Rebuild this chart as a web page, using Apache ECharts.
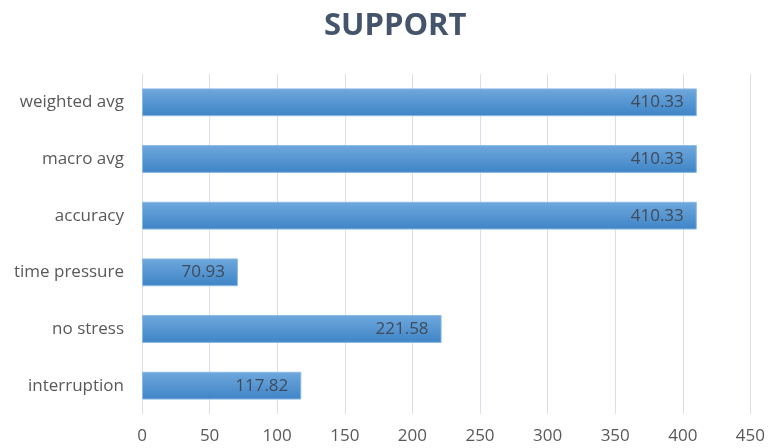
<!DOCTYPE html>
<html><head><meta charset="utf-8">
<script src="https://cdn.jsdelivr.net/npm/echarts@6/dist/echarts.min.js"></script>
<style>html,body{margin:0;padding:0;background:#fff}#c{width:768px;height:448px}</style>
</head><body><div id="c"></div>
<script>
const categories = ['interruption', 'no stress', 'time pressure', 'accuracy', 'macro avg', 'weighted avg'];
const support = [117.82, 221.58, 70.93, 410.33, 410.33, 410.33];
const xTicks = [0, 50, 100, 150, 200, 250, 300, 350, 400, 450];

const chart = echarts.init(document.getElementById('c'));
chart.setOption({
  animation: false,
  title: {
    text: 'SUPPORT', left: 319, top: 6,
    textStyle: { fontFamily: 'Open Sans', fontWeight: 'bold', fontSize: 31, color: '#44546a' }
  },
  grid: { left: 142, right: 14, top: 74, bottom: 34, containLabel: false },
  xAxis: {
    type: 'value', min: xTicks[0], max: xTicks[xTicks.length - 1], interval: 50,
    axisLine: { show: false }, axisTick: { show: false },
    splitLine: { lineStyle: { color: '#d9dee8', width: 1 } },
    axisLabel: { color: '#595959', fontFamily: 'Open Sans', fontSize: 17, margin: 14 }
  },
  yAxis: {
    type: 'category', data: categories,
    axisLine: { show: false }, axisTick: { show: false },
    axisLabel: { color: '#595959', fontFamily: 'Open Sans', fontSize: 17, margin: 18 }
  },
  series: [{
    type: 'bar', data: support, barWidth: '49%',
    itemStyle: {
      color: new echarts.graphic.LinearGradient(0, 0, 0, 1, [
        { offset: 0, color: '#6fa8dd' },
        { offset: 1, color: '#3e84c6' }
      ]),
      borderColor: '#8ab8e4', borderWidth: 1
    },
    label: {
      show: true, position: 'insideRight', distance: 13,
      color: '#404b5a', fontFamily: 'Open Sans', fontSize: 17,
      formatter: p => p.value.toFixed(2)
    }
  }]
});
</script></body></html>
